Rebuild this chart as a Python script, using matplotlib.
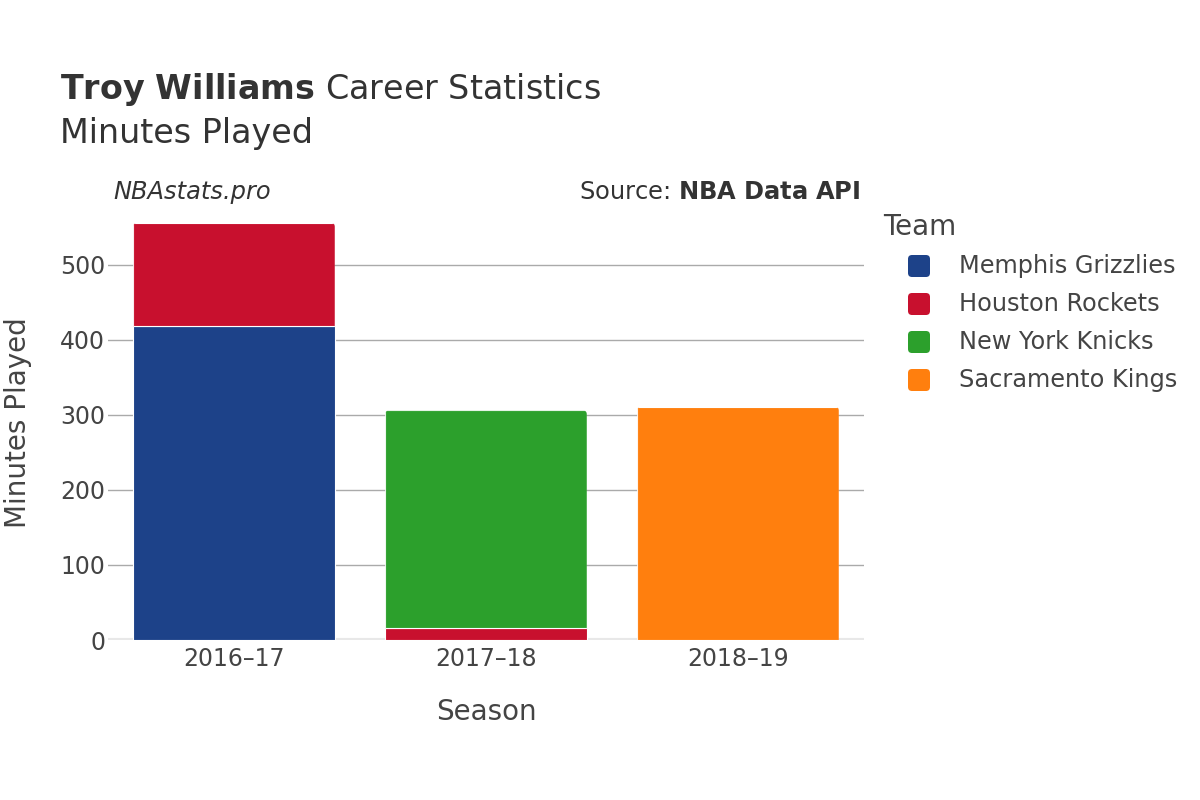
import matplotlib
matplotlib.use("Agg")
import matplotlib.pyplot as plt
from matplotlib.patches import FancyBboxPatch
import numpy as np

seasons = ["2016–17", "2017–18", "2018–19"]
teams = ["Memphis Grizzlies", "Houston Rockets", "New York Knicks", "Sacramento Kings"]
memphis = [418, 0, 0]
houston = [138, 16, 0]
knicks = [0, 290, 0]
sacramento = [0, 0, 311]
colors = ["#1d4289", "#c8102e", "#2ca02c", "#ff7f0e"]
yticks = [0, 100, 200, 300, 400, 500]

plt.rcParams['font.family'] = ['DejaVu Sans']
fig = plt.figure(figsize=(12, 8), dpi=100)
ax = fig.add_axes([0.09, 0.2, 0.63, 0.544])

x = np.arange(len(seasons))
bottom = np.zeros(len(seasons))
series = [memphis, houston, knicks, sacramento]
top_patch = {}
for vals, col, name in zip(series, colors, teams):
    v = np.array(vals, dtype=float)
    idx = np.where(v > 0)[0]
    bars = ax.bar(x[idx], v[idx], bottom=bottom[idx], width=0.8, color=col,
                  edgecolor="white", linewidth=0.8, label=name, zorder=3)
    for i, b in zip(idx, bars):
        top_patch[i] = b
    bottom += v

ax.set_xlim(-0.5, 2.5)
ax.set_ylim(0, 580)

# rounded top corners (about 4 px)
px_x = 3.0 / 756      # data units per pixel, x
px_y = 580.0 / 435    # data units per pixel, y
r = 4 * px_x
for i, b in top_patch.items():
    x0, y0 = b.get_x(), b.get_y()
    w, h = b.get_width(), b.get_height()
    clip = FancyBboxPatch((x0, y0 - 100), w, h + 100,
                          boxstyle=f"round,pad=0,rounding_size={r}",
                          mutation_aspect=px_y / px_x, transform=ax.transData,
                          facecolor="none", edgecolor="none")
    b.set_clip_path(clip)

ax.set_yticks(yticks)
ax.set_xticks(x)
ax.set_xticklabels(seasons)
ax.tick_params(axis="both", length=0, labelsize=17, colors="#444444")
ax.tick_params(axis="y", pad=2)
ax.tick_params(axis="x", pad=5)
ax.grid(axis="y", color="#aaaaaa", linewidth=1, zorder=0)
ax.axhline(0, color="#e8e8e8", linewidth=3, zorder=2)
for s in ax.spines.values():
    s.set_visible(False)
ax.set_xlabel("Season", fontsize=20, color="#444444", va="center")
ax.xaxis.set_label_coords(0.5, -72 / 435)
ax.set_ylabel("Minutes Played", fontsize=20, color="#444444", va="center")
ax.yaxis.set_label_coords((18 - 108) / 756, 0.5)

fig.text(0.05, 1 - 89 / 800, r"$\bf{Troy\ Williams}$ Career Statistics", fontsize=24, color="#333333", va="center")
fig.text(0.05, 1 - 133 / 800, "Minutes Played", fontsize=24, color="#333333", va="center")
fig.text(113 / 1200, 1 - 192 / 800, "NBAstats.pro", fontsize=17.4, style="italic", color="#333333", va="center")
fig.text(860 / 1200, 1 - 192 / 800, r"Source: $\bf{NBA\ Data\ API}$", fontsize=17.4, color="#333333", va="center", ha="right")

# legend, built by hand for exact placement
fig.text(883 / 1200, 1 - 227 / 800, "Team", fontsize=20, color="#444444", va="center")
for k, (name, col) in enumerate(zip(teams, colors)):
    yc = 266 + 38 * k
    sq = FancyBboxPatch((908 / 1200, 1 - (yc + 11) / 800), 22 / 1200, 22 / 800,
                        boxstyle=f"round,pad=0,rounding_size={4 / 1200}",
                        mutation_aspect=1200 / 800, transform=fig.transFigure,
                        facecolor=col, edgecolor="none")
    fig.patches.append(sq)
    fig.text(959 / 1200, 1 - yc / 800, name, fontsize=17.3, color="#444444", va="center")

fig.savefig("out.png", dpi=100)
